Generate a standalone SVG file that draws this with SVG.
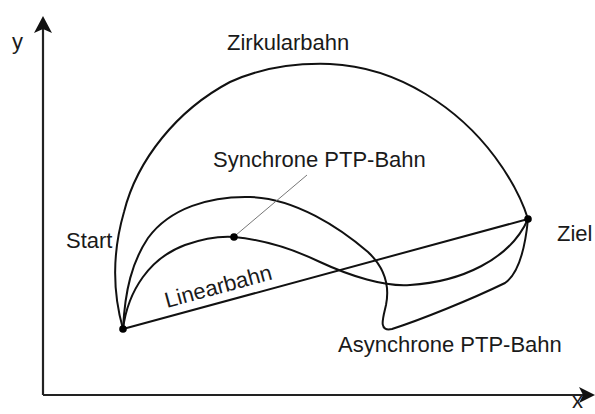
<svg xmlns="http://www.w3.org/2000/svg" width="595" height="414" viewBox="0 0 595 414">
<style>
.lbl{font-family:"Liberation Sans",Arial,sans-serif;font-size:22px;fill:#1a1a1a}
.crv{fill:none;stroke:#111;stroke-width:2;stroke-linejoin:round;stroke-linecap:round}
.ax{fill:none;stroke:#222;stroke-width:2.2}
.dot{fill:#000}
</style>
<rect width="595" height="414" fill="#fff"/>
<g id="axes">
<line class="ax" x1="43" y1="395" x2="43" y2="28"/>
<path d="M43,16 L52,33 L43,29 L34,33 Z" fill="#111"/>
<line class="ax" x1="43" y1="395" x2="586" y2="395"/>
<path d="M595,395 L579,387 L583,395 L579,403 Z" fill="#111"/>
<text class="lbl" x="572" y="408" font-size="20">x</text>
<text class="lbl" x="12" y="49">y</text>
</g>
<g id="connectors">
<path id="zirkular" class="crv" d="M123,329 C112,290 113,250 124,212 C137,160 177,110 230,82 C265,66 300,63 330,64 C400,67 460,110 495,157 C512,180 522,200 528,219"/>
<path id="async" class="crv" d="M123,329 C125,290 132,262 148,238 C170,208 210,196 250,197 C295,198 340,228 368,252 C385,268 390,285 386,305 C383,318 378,332 392,329 C420,320 470,300 505,283 C518,274 525,250 528,219"/>
<path id="sync" class="crv" d="M123,329 C128,290 150,258 185,245 C205,238 220,236 234,237 C265,240 295,250 320,262 C350,276 385,287 410,285 C460,282 510,260 528,219"/>
<line id="linear" class="crv" x1="123" y1="329" x2="528" y2="219"/>
<line id="leader" x1="236" y1="235" x2="307" y2="175" stroke="#777" stroke-width="1"/>
</g>
<g id="start"><circle class="dot" cx="123" cy="329" r="3.8"/><text class="lbl" x="66" y="248">Start</text></g>
<g id="ziel"><circle class="dot" cx="528" cy="219" r="3.8"/><text class="lbl" x="557" y="241">Ziel</text></g>
<g id="syncpoint"><circle class="dot" cx="234" cy="237" r="3.8"/></g>
<g id="labels">
<text class="lbl" x="227" y="50">Zirkularbahn</text>
<text class="lbl" x="213" y="167">Synchrone PTP-Bahn</text>
<text class="lbl" x="338" y="352">Asynchrone PTP-Bahn</text>
<text class="lbl" x="167" y="308" transform="rotate(-15.2 167 308)">Linearbahn</text>
</g>
</svg>
